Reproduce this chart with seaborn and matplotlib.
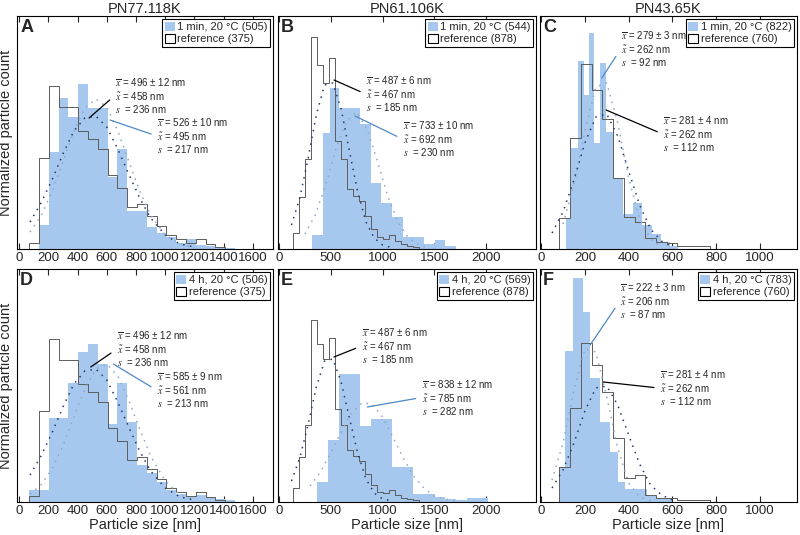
import numpy as np
import seaborn as sns
import matplotlib.pyplot as plt
from matplotlib.patches import Patch

# ---- histogram data: bin edges in nm, bar heights in normalized units ----
ref77_edges = [70, 137, 204, 271, 338, 405, 472, 539, 606, 673, 740, 807, 874,
               941, 1008, 1075, 1142, 1209, 1276, 1343, 1410]
ref77_h = [6, 91, 163, 142, 142, 118, 110, 100, 74, 61, 42, 45, 33, 23, 14, 10,
           6, 10, 5, 2]

a_smp_edges = [137, 204, 271, 338, 405, 472, 539, 606, 673, 740, 807, 874, 941,
               1008, 1075, 1142, 1209, 1276, 1343, 1410, 1477]
a_smp_h = [24, 97, 151, 132, 165, 141, 141, 72, 100, 38, 38, 22, 16, 12, 6, 10,
           4, 3, 2, 1]

d_smp_edges = [70, 137, 204, 271, 338, 405, 472, 539, 606, 673, 740, 807, 874,
               941, 1008, 1075, 1142, 1209, 1276, 1343, 1410, 1477]
d_smp_h = [12, 12, 84, 84, 119, 150, 158, 138, 78, 119, 80, 37, 29, 20, 12, 8,
           5, 7, 5, 3, 2]

ref106_edges = [132, 190, 248, 306, 364, 422, 480, 538, 596, 654, 712, 770, 828,
                886, 944, 1002, 1060, 1118, 1176, 1234, 1292, 1350]
b_ref_h = [16, 52, 90, 212, 184, 166, 191, 108, 90, 60, 53, 48, 33, 20, 12, 10,
           14, 8, 5, 3, 2]
e_ref_h = [14, 45, 77, 182, 158, 143, 164, 93, 77, 52, 46, 41, 28, 17, 10, 9,
           12, 7, 4, 3, 2]

b_smp_edges = [320, 420, 495, 576, 679, 782, 885, 988, 1091, 1194, 1297, 1400,
               1503, 1606, 1709]
b_smp_h = [14, 116, 161, 141, 141, 125, 66, 46, 32, 12, 12, 5, 9, 3]

e_smp_edges = [370, 473, 576, 679, 782, 885, 988, 1091, 1194, 1297, 1400, 1503,
               1606, 1709, 1812, 1915, 2018]
e_smp_h = [20, 62, 128, 128, 76, 83, 83, 35, 35, 8, 8, 5, 3, 2, 4, 4]

ref65_edges = [84, 133, 182, 231, 280, 329, 378, 427, 476, 525, 574, 623, 672,
               721, 770]
c_ref_h = [31, 111, 185, 159, 130, 71, 32, 27, 11, 7, 6, 3, 3, 3]
f_ref_h = [35, 94, 159, 137, 110, 64, 24, 27, 7, 4, 4, 2, 2, 2]

c_smp_edges = [114, 137, 167, 198, 219, 242, 269, 297, 330, 376, 422, 463, 505,
               548, 589, 627]
c_smp_h = [31, 101, 188, 154, 216, 106, 186, 117, 71, 35, 46, 24, 15, 7, 3]

f_smp_edges = [84, 110, 148, 193, 224, 269, 315, 353, 385, 425, 485, 530, 600]
f_smp_h = [35, 151, 224, 190, 124, 80, 50, 20, 13, 13, 6, 3]

# ---- dotted fit curves ----
fit77_x = [75, 150, 225, 300, 375, 450, 525, 600, 675, 750, 825, 900, 1000,
           1100, 1200]
fit77_ref_y = [27, 46, 69, 95, 118, 131, 133, 122, 100, 75, 51, 31, 14, 5, 2]
a_fit_smp_y = [17, 33, 57, 87, 118, 141, 150, 142, 118, 88, 58, 34, 14, 5, 1]
d_fit_smp_y = [8, 17, 33, 56, 85, 113, 133, 138, 126, 102, 73, 46, 21, 7, 2]

fit106_ref_x = [120, 200, 280, 360, 440, 520, 600, 680, 760, 840, 920, 1000, 1100]
b_fit_ref_y = [24, 51, 90, 134, 164, 166, 140, 98, 57, 27, 11, 4, 1]
e_fit_ref_y = [21, 44, 77, 115, 141, 143, 120, 84, 49, 23, 9, 3, 1]
b_fit_smp_x = [250, 350, 450, 550, 650, 750, 850, 950, 1050, 1150, 1250, 1350, 1450]
b_fit_smp_y = [15, 34, 64, 100, 128, 137, 120, 88, 53, 27, 11, 4, 1]
e_fit_smp_x = [300, 400, 500, 600, 700, 800, 900, 1000, 1100, 1200, 1300, 1400,
               1500, 1600, 1700]
e_fit_smp_y = [16, 30, 49, 70, 89, 99, 98, 85, 65, 44, 26, 14, 6, 3, 1]

fit65_ref_x = [50, 100, 150, 200, 250, 300, 350, 400, 450, 500, 550, 600]
c_fit_ref_y = [16, 37, 69, 106, 132, 135, 113, 78, 44, 20, 8, 2]
f_fit_ref_y = [14, 32, 59, 91, 114, 116, 97, 67, 38, 17, 7, 2]
c_fit_smp_x = [100, 150, 200, 250, 300, 350, 400, 450, 500, 550]
c_fit_smp_y = [25, 64, 118, 162, 166, 126, 71, 30, 10, 2]
f_fit_smp_x = [50, 100, 150, 200, 250, 300, 350, 400, 450, 500]
f_fit_smp_y = [22, 59, 112, 153, 150, 105, 54, 19, 5, 1]

# ---- text ----
titles = ['PN77.118K', 'PN61.106K', 'PN43.65K']
letters = ['A', 'B', 'C', 'D', 'E', 'F']
smp_labels = ['1 min, 20 °C (505)', '1 min, 20 °C (544)', '1 min, 20 °C (822)',
              '4 h, 20 °C (506)', '4 h, 20 °C (569)', '4 h, 20 °C (783)']
ref_labels = ['reference (375)', 'reference (878)', 'reference (760)']
# mean ± err, median, sd
ref_stats = [['496 ± 12', '458', '236'], ['487 ± 6', '467', '185'],
             ['281 ± 4', '262', '112']]
smp_stats = [['526 ± 10', '495', '217'], ['733 ± 10', '692', '230'],
             ['279 ± 3', '262', '92'], ['585 ± 9', '561', '213'],
             ['838 ± 12', '785', '282'], ['222 ± 3', '206', '87']]

BLUE = '#a7c8ee'
REF_LINE = '#5c5c5c'
FIT_REF = '#24396a'
FIT_SMP = '#8ea6c8'
ANN_BLUE = '#4d89c7'

sns.set_style('white')
plt.rcParams['font.family'] = ['Liberation Sans', 'DejaVu Sans']
plt.rcParams['mathtext.fontset'] = 'stix'
plt.rcParams['axes.linewidth'] = 0.8
plt.rcParams['axes.edgecolor'] = 'black'

panels = [
    dict(ref_e=ref77_edges, ref_h=ref77_h, smp_e=a_smp_edges, smp_h=a_smp_h,
         fr_x=fit77_x, fr_y=fit77_ref_y, fs_x=fit77_x, fs_y=a_fit_smp_y,
         ref_xy=(479, 131), ref_txt=(0.383, 0.742), smp_xy=(622, 129), smp_txt=(0.547, 0.567)),
    dict(ref_e=ref106_edges, ref_h=b_ref_h, smp_e=b_smp_edges, smp_h=b_smp_h,
         fr_x=fit106_ref_x, fr_y=b_fit_ref_y, fs_x=b_fit_smp_x, fs_y=b_fit_smp_y,
         ref_xy=(531, 169), ref_txt=(0.341, 0.747), smp_xy=(734, 133), smp_txt=(0.483, 0.554)),
    dict(ref_e=ref65_edges, ref_h=c_ref_h, smp_e=c_smp_edges, smp_h=c_smp_h,
         fr_x=fit65_ref_x, fr_y=c_fit_ref_y, fs_x=c_fit_smp_x, fs_y=c_fit_smp_y,
         ref_xy=(297, 139), ref_txt=(0.479, 0.575), smp_xy=(277, 171), smp_txt=(0.314, 0.94)),
    dict(ref_e=ref77_edges, ref_h=ref77_h, smp_e=d_smp_edges, smp_h=d_smp_h,
         fr_x=fit77_x, fr_y=fit77_ref_y, fs_x=fit77_x, fs_y=d_fit_smp_y,
         ref_xy=(490, 135), ref_txt=(0.389, 0.738), smp_xy=(645, 138), smp_txt=(0.546, 0.562)),
    dict(ref_e=ref106_edges, ref_h=e_ref_h, smp_e=e_smp_edges, smp_h=e_smp_h,
         fr_x=fit106_ref_x, fr_y=e_fit_ref_y, fs_x=e_fit_smp_x, fs_y=e_fit_smp_y,
         ref_xy=(531, 145), ref_txt=(0.324, 0.752), smp_xy=(853, 95), smp_txt=(0.557, 0.531)),
    dict(ref_e=ref65_edges, ref_h=f_ref_h, smp_e=f_smp_edges, smp_h=f_smp_h,
         fr_x=fit65_ref_x, fr_y=f_fit_ref_y, fs_x=f_fit_smp_x, fs_y=f_fit_smp_y,
         ref_xy=(284, 120), ref_txt=(0.467, 0.571), smp_xy=(224, 157), smp_txt=(0.311, 0.945)),
]

col_left = [17 / 800, 278 / 800, 540 / 800]
col_width = [256 / 800, 258 / 800, 257 / 800]
row_bottom = [1 - 249 / 535, 1 - 502 / 535]
row_height = 233 / 535
xlims = [(-14, 1737), (-10, 2483), (-5, 1169)]
xticks = [range(0, 1601, 200), range(0, 2001, 500), range(0, 1001, 200)]


def stats_text(st):
    return ('$\\overline{x}$ = ' + st[0] + ' nm\n$\\tilde{x}$ = ' + st[1]
            + ' nm\n$s$  = ' + st[2] + ' nm')


fig = plt.figure(figsize=(8, 5.35), dpi=100)

for i, p in enumerate(panels):
    row, col = divmod(i, 3)
    ax = fig.add_axes([col_left[col], row_bottom[row], col_width[col], row_height])

    # sample histogram (filled)
    se = np.asarray(p['smp_e'], float)
    sns.histplot(x=list((se[:-1] + se[1:]) / 2), weights=list(p['smp_h']),
                 bins=list(se), element='step', fill=True, color=BLUE, alpha=1,
                 linewidth=0, ax=ax)

    # reference histogram (outline), padded so the outline drops to zero
    re = np.asarray(p['ref_e'], float)
    re = np.r_[re[0] - (re[1] - re[0]), re, re[-1] + (re[-1] - re[-2])]
    rh = [0] + list(p['ref_h']) + [0]
    sns.histplot(x=list((re[:-1] + re[1:]) / 2), weights=rh, bins=list(re),
                 element='step', fill=False, color=REF_LINE, linewidth=0.7, ax=ax)

    # dotted fit curves
    sns.lineplot(x=p['fr_x'], y=p['fr_y'], color=FIT_REF, linewidth=1.1,
                 linestyle=(0, (1, 3.5)), ax=ax)
    sns.lineplot(x=p['fs_x'], y=p['fs_y'], color=FIT_SMP, linewidth=1.1,
                 linestyle=(0, (1, 3.5)), ax=ax)

    # stats annotations
    ax.annotate(stats_text(ref_stats[col]), xy=p['ref_xy'], xytext=p['ref_txt'],
                textcoords='axes fraction', ha='left', va='top', fontsize=7,
                linespacing=1.1,
                arrowprops=dict(arrowstyle='-', color='black', lw=0.9,
                                shrinkA=2, shrinkB=0, relpos=(0, 0.5)))
    ax.annotate(stats_text(smp_stats[i]), xy=p['smp_xy'], xytext=p['smp_txt'],
                textcoords='axes fraction', ha='left', va='top', fontsize=7,
                linespacing=1.1,
                arrowprops=dict(arrowstyle='-', color=ANN_BLUE, lw=0.9,
                                shrinkA=2, shrinkB=0, relpos=(0, 0.5)))

    handles = [Patch(facecolor=BLUE, edgecolor='none'),
               Patch(facecolor='white', edgecolor='black', linewidth=0.8)]
    leg = ax.legend(handles, [smp_labels[i], ref_labels[col]], loc='upper right',
                    fontsize=8, frameon=True, fancybox=False, edgecolor='black',
                    framealpha=1, borderaxespad=0.25, borderpad=0.25,
                    handlelength=0.9, handleheight=0.9, handletextpad=0.2,
                    labelspacing=0.15)
    leg.get_frame().set_linewidth(0.8)

    ax.text(0.012, 0.985, letters[i], transform=ax.transAxes, fontsize=13,
            fontweight='bold', va='top', ha='left')

    ax.set_xlim(*xlims[col])
    ax.set_ylim(0, 233)
    ax.set_xticks(list(xticks[col]))
    ax.set_yticks([])
    ax.tick_params(axis='x', direction='in', top=True, bottom=True, length=4,
                   width=0.8, labelsize=9.5, pad=2)
    ax.set_ylabel('Normalized particle count' if col == 0 else '', fontsize=10.5,
                  labelpad=3)
    ax.set_xlabel('Particle size [nm]' if row == 1 else '', fontsize=10.5, labelpad=1)
    if row == 0:
        ax.set_title(titles[col], fontsize=10.5, pad=2)
    for s in ax.spines.values():
        s.set_visible(True)
        s.set_color('black')

fig.savefig('out.png', dpi=100)
